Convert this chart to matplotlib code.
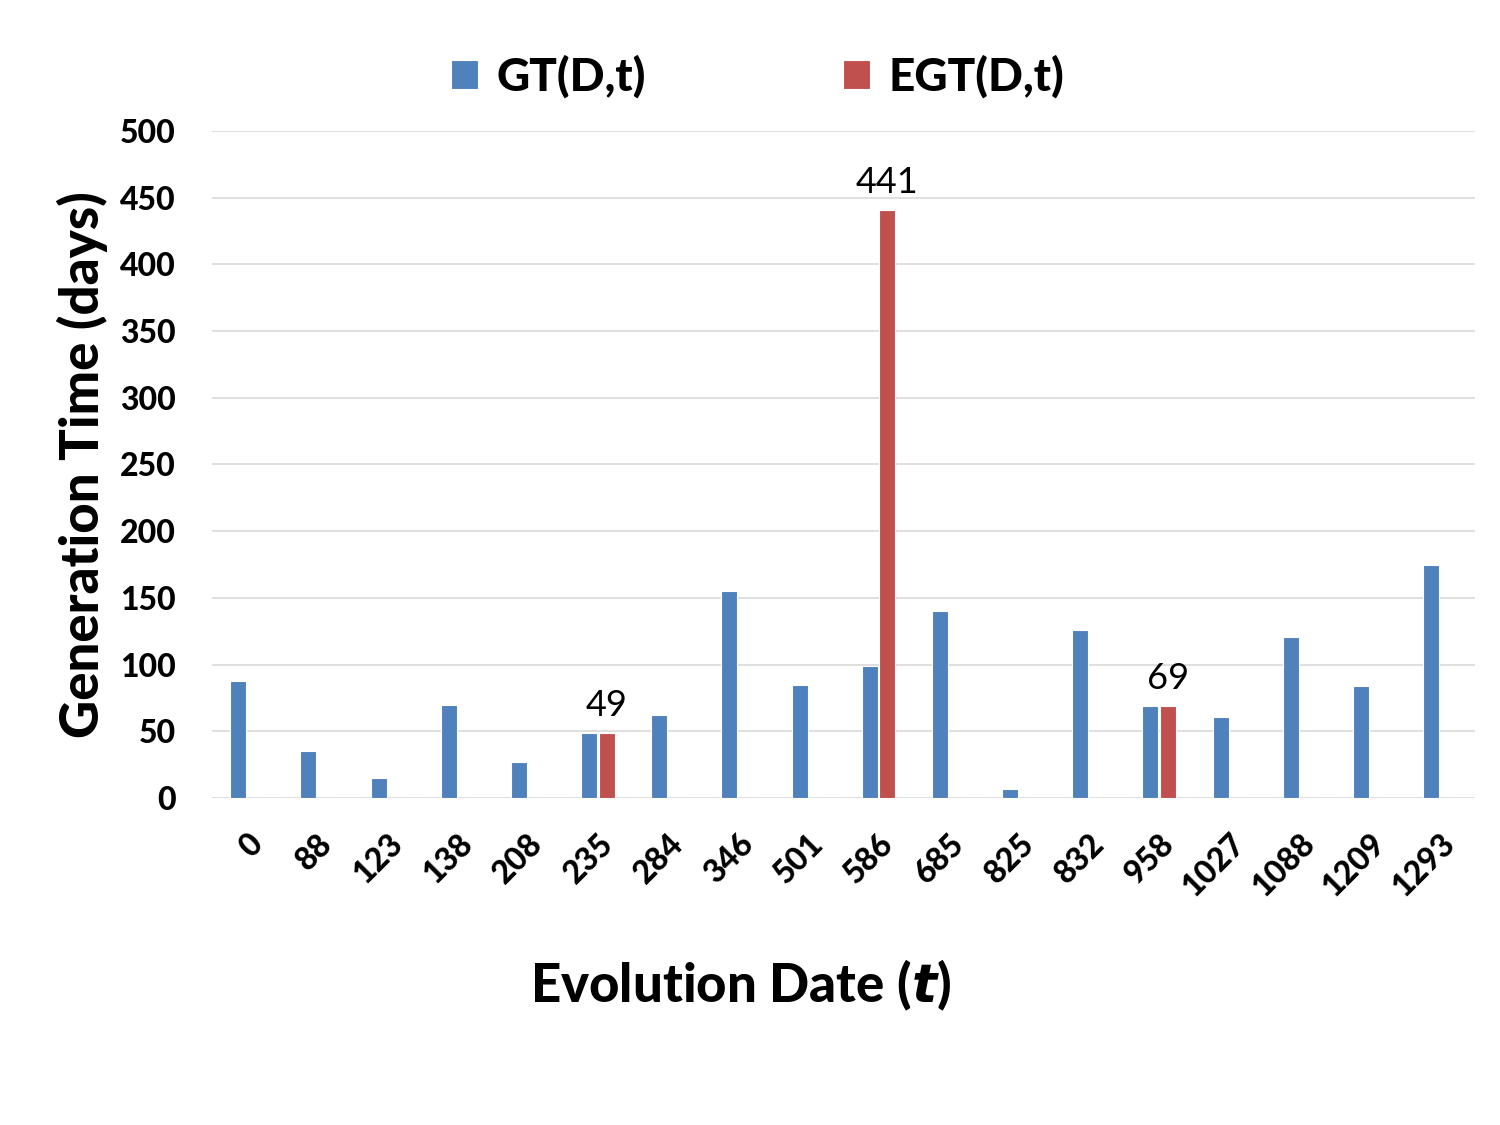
import matplotlib.pyplot as plt
import numpy as np

dates = ["0", "88", "123", "138", "208", "235", "284", "346", "501", "586",
         "685", "825", "832", "958", "1027", "1088", "1209", "1293"]
gt = [88, 35, 15, 70, 27, 49, 62, 155, 85, 99, 140, 7, 126, 69, 61, 121, 84, 175]
# EGT only exists at three dates (0 elsewhere -> no bar)
egt = [0, 0, 0, 0, 0, 49, 0, 0, 0, 441, 0, 0, 0, 69, 0, 0, 0, 0]

plt.rcParams['font.family'] = ['Lato', 'DejaVu Sans']

fig = plt.figure(figsize=(15, 11.25), dpi=100)
ax = fig.add_axes([0.1413, 0.2907, 0.8420, 0.5929])

x = np.arange(len(dates))
w = 0.23
b1 = ax.bar(x - 0.125, gt, w, color='#4F81BD', edgecolor='white', linewidth=0.8,
            label='GT(D,t)', zorder=3)
b2 = ax.bar(x + 0.125, egt, w, color='#C0504D', edgecolor='white', linewidth=0.8,
            label='EGT(D,t)', zorder=3)

for i, v in enumerate(egt):
    if v > 0:
        ax.text(x[i] + 0.125, v + 8, str(v), ha='center', va='bottom', fontsize=26)

ax.set_xlim(-0.5, len(dates) - 0.5)
ax.set_ylim(0, 500)
ax.set_yticks(range(0, 501, 50))
ax.grid(axis='y', color='#D9D9D9', linewidth=1.2, zorder=0)
for s in ax.spines.values():
    s.set_visible(False)
ax.tick_params(axis='both', length=0)
ax.tick_params(axis='y', pad=26)
ax.tick_params(axis='x', pad=22)
ax.set_xticks(x)
ax.set_xticklabels(dates, rotation=45, ha='right', rotation_mode='anchor')
for lab in ax.get_yticklabels() + ax.get_xticklabels():
    lab.set_fontsize(23)
    lab.set_fontweight('black')

fig.text(0.055, 0.587, 'Generation Time (days)', rotation=90, ha='center', va='center',
         fontsize=38, fontweight='black')
fig.text(0.494, 0.124, 'Evolution Date ($\\boldsymbol{t}$)', ha='center', va='center',
         fontsize=38, fontweight='black')

fig.legend(handles=[b1, b2], loc='upper center', bbox_to_anchor=(0.505, 0.988), ncol=2,
           frameon=False, prop={'size': 33, 'weight': 'black'}, handlelength=0.6,
           handleheight=0.6, handletextpad=0.4, columnspacing=4.3)

fig.savefig('out.png', dpi=100)
